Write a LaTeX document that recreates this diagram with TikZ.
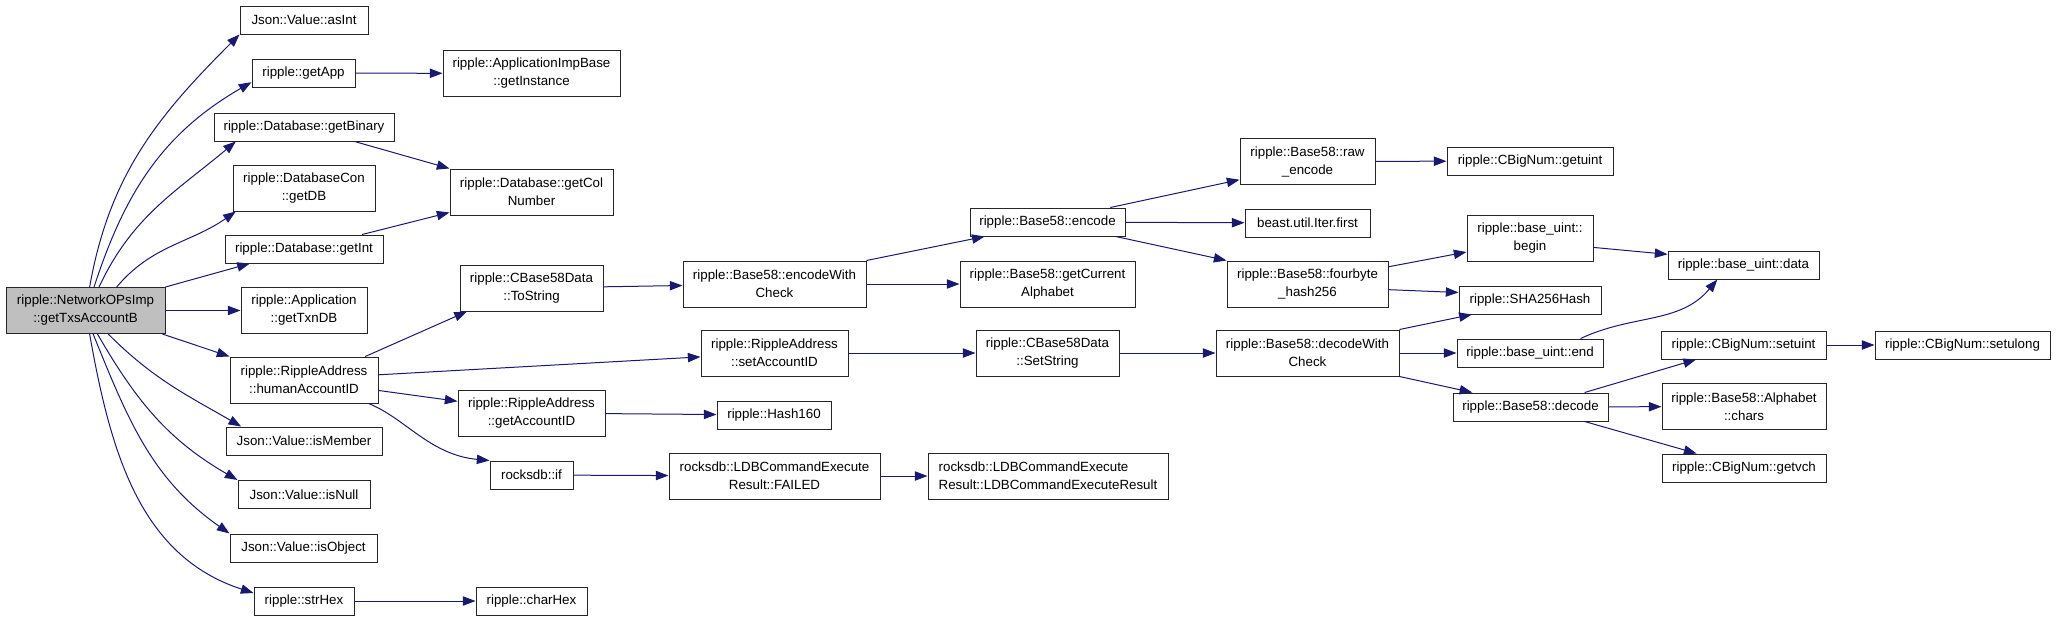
\documentclass[tikz,border=0pt]{standalone}
\usepackage{fontspec}
\setmainfont{Liberation Sans}
\usetikzlibrary{arrows.meta}
\definecolor{edgeblue}{HTML}{191970}
\definecolor{rootgray}{HTML}{BFBFBF}

\begin{document}
\begin{tikzpicture}[x=0.75pt, y=-0.75pt, >={Triangle[length=9.5pt, width=7pt]},
    fn/.style={draw=black!85, line width=0.75pt, fill=white, inner sep=0pt, align=center,
      minimum height=21pt, font=\fontsize{10}{13.5}\selectfont},
    fn2/.style={fn, minimum height=34.5pt},
    bw/.style={minimum width=#1*0.75pt},
    call/.style={->, draw=edgeblue, line width=0.75pt}]
    \useasboundingbox (0,0) rectangle (2056,621);

    % Nodes (caller and its direct callees)
    \node[fn2, bw=159, fill=rootgray] (net) at (85.5,310.5) {ripple::NetworkOPsImp\\::getTxsAccountB};
    \node[fn, bw=128] (asInt) at (304,20) {Json::Value::asInt};
    \node[fn, bw=103] (getApp) at (303.5,73) {ripple::getApp};
    \node[fn, bw=180] (getBinary) at (304,127) {ripple::Database::getBinary};
    \node[fn2, bw=142] (getDB) at (304,188) {ripple::DatabaseCon\\::getDB};
    \node[fn, bw=158] (getInt) at (304,249) {ripple::Database::getInt};
    \node[fn2, bw=126] (getTxnDB) at (304,310.5) {ripple::Application\\::getTxnDB};
    \node[fn2, bw=148] (human) at (304,380) {ripple::RippleAddress\\::humanAccountID};
    \node[fn, bw=156] (isMember) at (304,441) {Json::Value::isMember};
    \node[fn, bw=132] (isNull) at (304,494.5) {Json::Value::isNull};
    \node[fn, bw=147] (isObject) at (303.5,548) {Json::Value::isObject};
    \node[fn, bw=100] (strHex) at (304,601) {ripple::strHex};

    % Nodes (third column)
    \node[fn2, bw=177] (getInstance) at (531.5,73.5) {ripple::ApplicationImpBase\\::getInstance};
    \node[fn2, bw=163] (getColNumber) at (531.5,192) {ripple::Database::getCol\\Number};
    \node[fn2, bw=143] (ToString) at (531.5,288) {ripple::CBase58Data\\::ToString};
    \node[fn2, bw=147] (getAccountID) at (531.5,413) {ripple::RippleAddress\\::getAccountID};
    \node[fn, bw=83] (rocksif) at (531.5,475) {rocksdb::if};
    \node[fn, bw=111] (charHex) at (531.5,601) {ripple::charHex};

    % Nodes (fourth and fifth column)
    \node[fn2, bw=183] (encodeWithCheck) at (774.5,284) {ripple::Base58::encodeWith\\Check};
    \node[fn2, bw=147] (setAccountID) at (774.5,353) {ripple::RippleAddress\\::setAccountID};
    \node[fn, bw=114] (Hash160) at (774,415) {ripple::Hash160};
    \node[fn2, bw=211] (FAILED) at (774.5,476) {rocksdb::LDBCommandExecute\\Result::FAILED};
    \node[fn, bw=155] (encode) at (1047.5,222) {ripple::Base58::encode};
    \node[fn2, bw=175] (getAlphabet) at (1047.5,284) {ripple::Base58::getCurrent\\Alphabet};
    \node[fn2, bw=143] (SetString) at (1047.5,353) {ripple::CBase58Data\\::SetString};
    \node[fn2, bw=240, align=left] (LDBResult) at (1048,476) {rocksdb::LDBCommandExecute\\Result::LDBCommandExecuteResult};

    % Nodes (Base58 internals)
    \node[fn2, bw=135] (rawEncode) at (1307.5,161.5) {ripple::Base58::raw\\\_encode};
    \node[fn, bw=125] (iterFirst) at (1307.5,223) {beast.util.Iter.first};
    \node[fn2, bw=161] (fourbyte) at (1307.5,284) {ripple::Base58::fourbyte\\\_hash256};
    \node[fn2, bw=183] (decodeWithCheck) at (1307.5,353) {ripple::Base58::decodeWith\\Check};
    \node[fn, bw=166] (getuint) at (1530,161) {ripple::CBigNum::getuint};
    \node[fn2, bw=126] (begin) at (1530,238.5) {ripple::base\_uint::\\begin};
    \node[fn, bw=142] (SHA256) at (1530,300) {ripple::SHA256Hash};
    \node[fn, bw=146] (end) at (1530,353) {ripple::base\_uint::end};
    \node[fn, bw=155] (decode) at (1530.5,407) {ripple::Base58::decode};
    \node[fn, bw=151] (data) at (1743.5,265) {ripple::base\_uint::data};
    \node[fn, bw=165] (setuint) at (1743.5,345) {ripple::CBigNum::setuint};
    \node[fn2, bw=164] (chars) at (1744,406.5) {ripple::Base58::Alphabet\\::chars};
    \node[fn, bw=164] (getvch) at (1744,468) {ripple::CBigNum::getvch};
    \node[fn, bw=175] (setulong) at (1962.5,345) {ripple::CBigNum::setulong};

    % Calls from the root
    \path[every edge/.append style={call}]
        (net.80) edge[out=80, in=-135] (asInt.south west)
        (net.70) edge[out=72, in=-150] (getApp.190)
        (net.60) edge[out=65, in=-140] (getBinary.192)
        (net.37) edge[out=50, in=-145] (getDB.199)
        (net.north east) edge (getInt.195)
        (net.east) edge (getTxnDB.west)
        (net.-17) edge (human.north west)
        (net.-46) edge[out=-45, in=150] (isMember.167)
        (net.-63) edge[out=-60, in=150] (isNull.north west)
        (net.-72) edge[out=-68, in=145] (isObject.north west)
        (net.-80) edge[out=-80, in=162] (strHex.171);

    % Calls further down
    \path[every edge/.append style={call}]
        (getApp) edge (getInstance)
        (getBinary.-16) edge (getColNumber.north west)
        (getInt.14) edge (getColNumber.194)
        (strHex) edge (charHex)
        (human.21) edge (ToString.200)
        (human.4) edge (setAccountID.183)
        (human.-8) edge (getAccountID.171)
        (getAccountID) edge (Hash160)
        (rocksif) edge (FAILED)
        (FAILED) edge (LDBResult)
        (ToString) edge (encodeWithCheck)
        (encodeWithCheck.north east) edge (encode.193)
        (encodeWithCheck) edge (getAlphabet)
        (setAccountID) edge (SetString)
        (SetString) edge (decodeWithCheck)
        (encode.13) edge (rawEncode.195)
        (encode) edge (iterFirst)
        (encode.-12) edge (fourbyte.north west)
        (rawEncode) edge (getuint)
        (fourbyte.12) edge (begin.192)
        (fourbyte.-4) edge (SHA256.174)
        (decodeWithCheck.north east) edge (SHA256.194)
        (decodeWithCheck) edge (end)
        (decodeWithCheck.south east) edge (decode.166)
        (begin.-8) edge (data.172)
        (end.16) edge[out=25, in=-130] (data.209)
        (decode.15) edge (setuint.197)
        (decode) edge (chars)
        (decode.-15) edge (getvch.163)
        (setuint) edge (setulong);
    \draw[call] (human.-20) .. controls (405,418) and (430,455) .. (rocksif.north west);
\end{tikzpicture}
\end{document}
